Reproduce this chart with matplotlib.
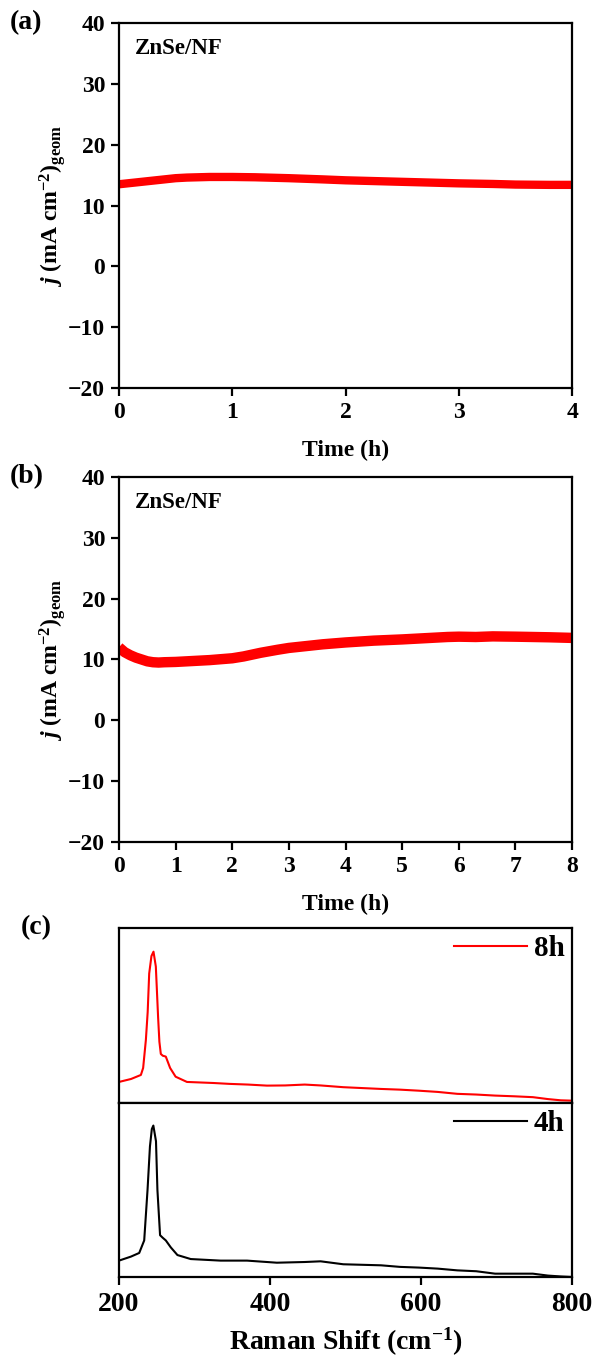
import numpy as np
import matplotlib
matplotlib.use('Agg')
import matplotlib.pyplot as plt

plt.rcParams['font.family'] = 'Liberation Serif'
plt.rcParams['font.weight'] = 'bold'
plt.rcParams['mathtext.fontset'] = 'custom'
plt.rcParams['mathtext.rm'] = 'Liberation Serif:bold'
plt.rcParams['mathtext.it'] = 'Liberation Serif:italic:bold'
plt.rcParams['mathtext.bf'] = 'Liberation Serif:bold'
plt.rcParams['axes.linewidth'] = 1.6

# (a) chronoamperometry, 4 h
t_a = [0.0, 0.1, 0.2, 0.3, 0.4, 0.5, 0.6, 0.7, 0.8, 1.0, 1.2, 1.5, 1.8, 2.0, 2.3, 2.5, 2.8, 3.0, 3.3, 3.5, 3.8, 4.0]
j_a = [13.5, 13.7, 13.9, 14.1, 14.3, 14.5, 14.6, 14.65, 14.7, 14.7, 14.65, 14.5, 14.3, 14.15, 14.0, 13.9, 13.75, 13.65, 13.55, 13.45, 13.4, 13.4]

# (b) chronoamperometry, 8 h
t_b = [0.0, 0.05, 0.1, 0.2, 0.3, 0.4, 0.5, 0.6, 0.7, 0.8, 1.0, 1.3, 1.6, 2.0, 2.2, 2.5, 2.8, 3.0, 3.3, 3.6, 4.0, 4.5, 5.0, 5.5, 5.8, 6.0, 6.3, 6.6, 7.0, 7.3, 7.6, 8.0]
j_b = [12.0, 11.6, 11.2, 10.7, 10.3, 10.0, 9.7, 9.55, 9.5, 9.55, 9.6, 9.75, 9.9, 10.2, 10.5, 11.1, 11.6, 11.9, 12.2, 12.5, 12.8, 13.1, 13.3, 13.55, 13.7, 13.75, 13.7, 13.8, 13.75, 13.7, 13.65, 13.55]

# (c) Raman spectra (normalised a.u.)
x_8h = [200, 216, 229, 232, 235.6, 238, 240, 243, 245.7, 248.8, 251.8, 253.5, 255.4, 258, 262, 267.7, 275, 290, 325, 346, 371, 396, 420, 446, 467, 497, 522, 547, 572, 597, 622, 648, 673, 698, 723, 748, 768, 785, 800]
i_8h = [0.12, 0.137, 0.16, 0.2, 0.36, 0.52, 0.74, 0.84, 0.865, 0.78, 0.49, 0.35, 0.28, 0.27, 0.265, 0.2, 0.15, 0.12, 0.114, 0.109, 0.105, 0.099, 0.100, 0.105, 0.100, 0.090, 0.085, 0.080, 0.076, 0.070, 0.063, 0.052, 0.048, 0.042, 0.038, 0.033, 0.022, 0.015, 0.013]
x_4h = [200, 215.8, 226.8, 233.4, 237.8, 241, 243.5, 245.5, 249, 250.9, 254.4, 258, 262, 268.6, 277.4, 295, 334.5, 369.6, 409, 446, 467, 497, 522, 547, 572, 597, 622, 648, 673, 698, 723, 748, 768, 785, 800]
i_4h = [0.094, 0.117, 0.138, 0.21, 0.5, 0.75, 0.85, 0.87, 0.78, 0.5, 0.24, 0.225, 0.21, 0.17, 0.126, 0.103, 0.094, 0.094, 0.082, 0.086, 0.090, 0.073, 0.070, 0.067, 0.058, 0.054, 0.048, 0.038, 0.033, 0.019, 0.019, 0.019, 0.008, 0.003, 0.0]

fig = plt.figure(figsize=(5.97, 13.64), dpi=100)

ylab = r'$\mathit{j}$ (mA cm$^{\mathbf{-2}}$)$_{\mathbf{geom}}$'


def style_ca(ax, xmax):
    ax.set_xlim(0, xmax)
    ax.set_ylim(-20, 40)
    ax.set_yticks([-20, -10, 0, 10, 20, 30, 40])
    ax.set_xticks(range(0, xmax + 1))
    ax.tick_params(direction='out', length=6, width=1.6, labelsize=17, pad=4)
    ax.set_xlabel('Time (h)', fontsize=17, fontweight='bold', labelpad=12)
    ax.set_ylabel(ylab, fontsize=17, fontweight='bold', labelpad=0)
    ax.text(0.035, 0.93, 'ZnSe/NF', transform=ax.transAxes, fontsize=16.5,
            fontweight='bold', va='center', ha='left')
    for lab in ax.get_xticklabels() + ax.get_yticklabels():
        lab.set_fontweight('bold')


ax1 = fig.add_axes([0.1993, 0.7155, 0.759, 0.2676])
ax1.plot(t_a, j_a, color='red', lw=6, solid_capstyle='butt')
style_ca(ax1, 4)
fig.text(0.016, 0.9831, '(a)', fontsize=20, fontweight='bold', va='center')

ax2 = fig.add_axes([0.1993, 0.3827, 0.759, 0.2676])
ax2.plot(t_b, j_b, color='red', lw=7.5, solid_capstyle='butt')
style_ca(ax2, 8)
fig.text(0.016, 0.6503, '(b)', fontsize=20, fontweight='bold', va='center')

# (c) stacked spectra
ax3 = fig.add_axes([0.1993, 0.1914, 0.759, 0.1282])
ax4 = fig.add_axes([0.1993, 0.0638, 0.759, 0.1276], sharex=ax3)
ax3.plot(x_8h, i_8h, color='red', lw=1.5, label='8h')
ax4.plot(x_4h, i_4h, color='black', lw=1.5, label='4h')
for ax in (ax3, ax4):
    ax.set_ylim(0, 1)
    ax.set_yticks([])
    ax.legend(loc='upper right', frameon=False, handlelength=2.5,
              handletextpad=0.25, borderaxespad=0.05, borderpad=0.2,
              prop={'weight': 'bold', 'size': 21})
ax3.set_xlim(200, 800)
ax3.tick_params(axis='x', bottom=False, labelbottom=False)
ax4.set_xticks([200, 400, 600, 800])
ax4.tick_params(axis='x', direction='out', length=6, width=1.6, labelsize=20, pad=5)
for lab in ax4.get_xticklabels():
    lab.set_fontweight('bold')
ax4.set_xlabel(r'Raman Shift (cm$^{\mathbf{-1}}$)', fontsize=20,
               fontweight='bold', labelpad=6)
fig.text(0.035, 0.3196, '(c)', fontsize=20, fontweight='bold', va='center')

fig.savefig('out.png', dpi=100)
